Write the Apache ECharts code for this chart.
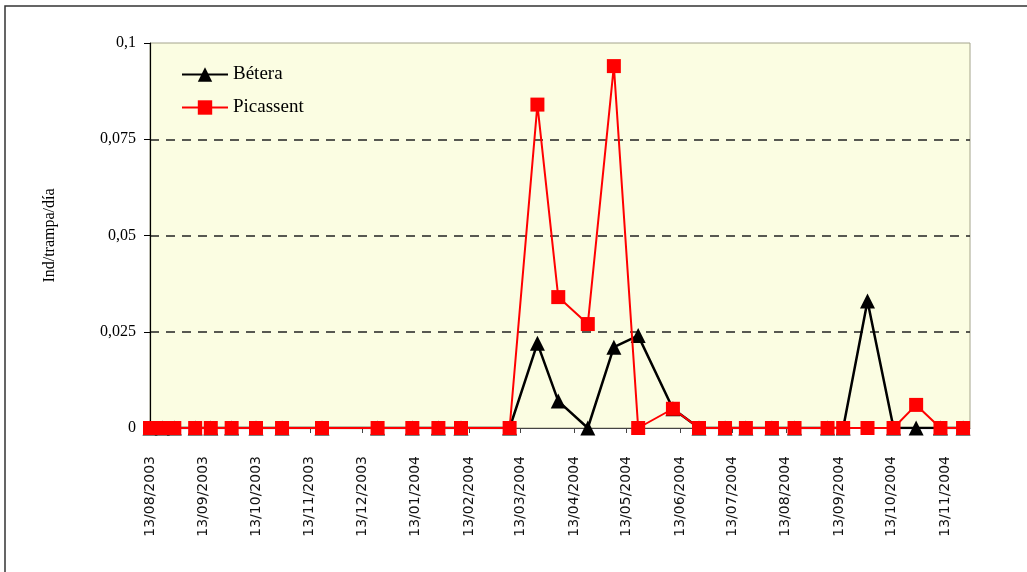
<!DOCTYPE html>
<html>
<head>
	<meta charset="utf-8">
	<title>chart</title>
	<style>
		html, body { margin: 0; padding: 0; background: #fff; }
		#graph { width: 1027px; height: 572px; }
	</style>
</head>
<body>

<div id="graph"></div>
<script type="text/javascript" src="https://cdn.jsdelivr.net/npm/echarts@6/dist/echarts.min.js"></script>
<script type="text/javascript">
	// fechas de muestreo (las mismas para las dos localidades)
	const fechas = [
		'2003-08-13', '2003-08-20', '2003-08-27', '2003-09-08', '2003-09-17',
		'2003-09-29', '2003-10-13', '2003-10-28', '2003-11-20', '2003-12-22',
		'2004-01-11', '2004-01-26', '2004-02-08', '2004-03-07', '2004-03-23',
		'2004-04-04', '2004-04-21', '2004-05-06', '2004-05-20', '2004-06-09',
		'2004-06-24', '2004-07-09', '2004-07-21', '2004-08-05', '2004-08-18',
		'2004-09-06', '2004-09-15', '2004-09-29', '2004-10-14', '2004-10-27',
		'2004-11-10', '2004-11-23'
	];
	const betera = [
		0, 0, 0, 0, 0,
		0, 0, 0, 0, 0,
		0, 0, 0, 0, 0.022,
		0.007, 0, 0.021, 0.024, 0.005,
		0, 0, 0, 0, 0,
		0, 0, 0.033, 0, 0,
		0, 0
	];
	const picassent = [
		0, 0, 0, 0, 0,
		0, 0, 0, 0, 0,
		0, 0, 0, 0, 0.084,
		0.034, 0.027, 0.094, 0, 0.005,
		0, 0, 0, 0, 0,
		0, 0, 0, 0, 0.006,
		0, 0
	];
	// etiquetas del eje X
	const marcasX = [
		'2003-08-13', '2003-09-13', '2003-10-13', '2003-11-13', '2003-12-13',
		'2004-01-13', '2004-02-13', '2004-03-13', '2004-04-13', '2004-05-13',
		'2004-06-13', '2004-07-13', '2004-08-13', '2004-09-13', '2004-10-13',
		'2004-11-13'
	];

	(function(){
		let chart = echarts.init(document.getElementById('graph'));
		// fecha -> milisegundos (UTC, para que no dependa de la zona horaria)
		let ts = s => Date.parse(s + 'T00:00:00Z');
		let pad = n => (n < 10 ? '0' : '') + n;
		let serif = 'Liberation Serif';

		chart.setOption({
			animation: false,
			graphic: [{
				type: 'rect',
				shape: { x: 5, y: 6, width: 1100, height: 700 },
				style: { fill: 'none', stroke: '#333', lineWidth: 1.5 },
				silent: true
			}],
			grid: {
				left: 150, top: 43, right: 57, bottom: 144,
				show: true,
				backgroundColor: '#fbfde2',
				borderColor: '#a4a48c',
				borderWidth: 1
			},
			legend: {
				orient: 'vertical',
				left: 176, top: 60,
				itemWidth: 46, itemHeight: 18, itemGap: 14,
				textStyle: { fontFamily: serif, fontSize: 19, color: '#000' },
				data: ['Bétera', 'Picassent']
			},
			xAxis: {
				type: 'value',
				min: ts('2003-08-13'),
				max: ts('2004-11-27'),
				axisLine: { lineStyle: { color: '#444', width: 1 } },
				axisTick: {
					length: 5,
					lineStyle: { color: '#444' },
					customValues: marcasX.map(ts)
				},
				axisLabel: {
					rotate: 90,
					margin: 28,
					fontFamily: 'DejaVu Sans',
					fontSize: 14,
					color: '#111',
					customValues: marcasX.map(ts),
					formatter(v) {
						let d = new Date(v);
						return pad(d.getUTCDate()) + '/' + pad(d.getUTCMonth() + 1) + '/' + d.getUTCFullYear();
					}
				},
				splitLine: { show: false }
			},
			yAxis: {
				type: 'value',
				min: 0, max: 0.1, interval: 0.025,
				name: 'Ind/trampa/día',
				nameLocation: 'middle',
				nameGap: 92,
				nameTextStyle: { fontFamily: serif, fontSize: 16, color: '#000' },
				axisLine: { show: true, lineStyle: { color: '#000', width: 1.2 } },
				axisTick: { show: true, length: 6, lineStyle: { color: '#000' } },
				axisLabel: {
					margin: 14,
					fontFamily: serif,
					fontSize: 16,
					color: '#000',
					formatter: v => String(+v.toFixed(3)).replace('.', ',')
				},
				splitLine: {
					show: true,
					showMinLine: false,
					showMaxLine: false,
					lineStyle: { color: '#222', width: 1.5, type: [9, 7] }
				}
			},
			series: [
				{
					name: 'Bétera',
					type: 'line',
					z: 2,
					symbol: 'triangle',
					symbolSize: 15,
					color: '#000',
					lineStyle: { color: '#000', width: 2.5 },
					itemStyle: { color: '#000' },
					data: fechas.map((f, i) => [ts(f), betera[i]])
				},
				{
					name: 'Picassent',
					type: 'line',
					z: 3,
					symbol: 'rect',
					symbolSize: 14,
					color: '#f00',
					lineStyle: { color: '#f00', width: 2 },
					itemStyle: { color: '#f00' },
					data: fechas.map((f, i) => [ts(f), picassent[i]])
				}
			]
		});
	})();
</script>
</body>
</html>
